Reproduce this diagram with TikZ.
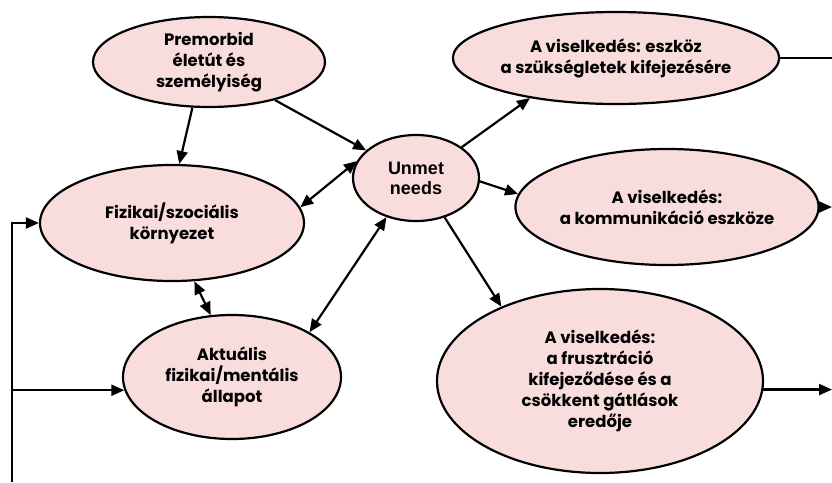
\documentclass[tikz,border=0pt]{standalone}
\usepackage{fontspec}
\setmainfont{Poppins}
\newfontfamily\needsfont{Liberation Sans}
\usetikzlibrary{shapes.geometric, arrows.meta}

\definecolor{needpink}{HTML}{F9DDDD}

\tikzset{
	bubble/.style={draw, ellipse, fill=needpink, line width=2.2pt, inner sep=0pt,
		align=center, font=\bfseries\fontsize{16.5}{21}\selectfont},
}

\begin{document}
\begin{tikzpicture}[x=1pt, y=-1pt, line width=2.2pt, >={Triangle[length=13pt, width=11pt]}]
	\useasboundingbox (0, 0) rectangle (832, 482);
	% the bubbles
	\node (pre) at (209, 62)	[bubble, minimum width=232, minimum height=90]	{Premorbid\\életút és\\személyiség};
	\node (fiz) at (172, 223)	[bubble, minimum width=264, minimum height=116]	{Fizikai/szociális\\környezet};
	\node (akt) at (232, 377)	[bubble, minimum width=218, minimum height=124]	{Aktuális\\fizikai/mentális\\állapot};
	\node (unmet) at (416, 178)	[bubble, minimum width=126, minimum height=86, font=\needsfont\bfseries\fontsize{18}{20}\selectfont]	{Unmet\\needs};
	\node (eszk) at (616, 58)	[bubble, minimum width=302, minimum height=92]	{A viselkedés: eszköz\\a szükségletek kifejezésére};
	\node (komm) at (667, 207)	[bubble, minimum width=300, minimum height=116]	{A viselkedés:\\a kommunikáció eszköze};
	\node (frusz) at (600, 381)	[bubble, minimum width=326, minimum height=184]	{A viselkedés:\\a frusztráció\\kifejeződése és a\\csökkent gátlások\\eredője};
	% free ends at the borders
	\coordinate (out1) at (832, 58);
	\coordinate (out2) at (832, 207);
	\coordinate (out3) at (832, 390);
	\coordinate (fb) at (12, 482);
	% connectors
	\draw[->] (pre.-110)	--	(fiz.83);
	\draw[->] (pre.-30)	--	(unmet.151);
	\draw[<->] (fiz.7)	--	(unmet.164);
	\draw[<->] (fiz.-69)	--	(akt.109);
	\draw[<->] (unmet.-127)	--	(akt.30);
	\draw[->] (unmet.34)	--	(eszk.205);
	\draw[->] (unmet.-3)	--	(komm.175);
	\draw[->] (unmet.-54)	--	(frusz.143);
	\draw (eszk.east)	--	(out1);
	\draw[->] (komm.east)	--	(out2);
	\draw[->] (frusz.-3.2)	--	(frusz.-3.2 -| out3);
	\draw[->] (fb)	|-	(fiz.west);
	\draw[->] (fb |- akt.-173)	--	(akt.-173);
\end{tikzpicture}
\end{document}
